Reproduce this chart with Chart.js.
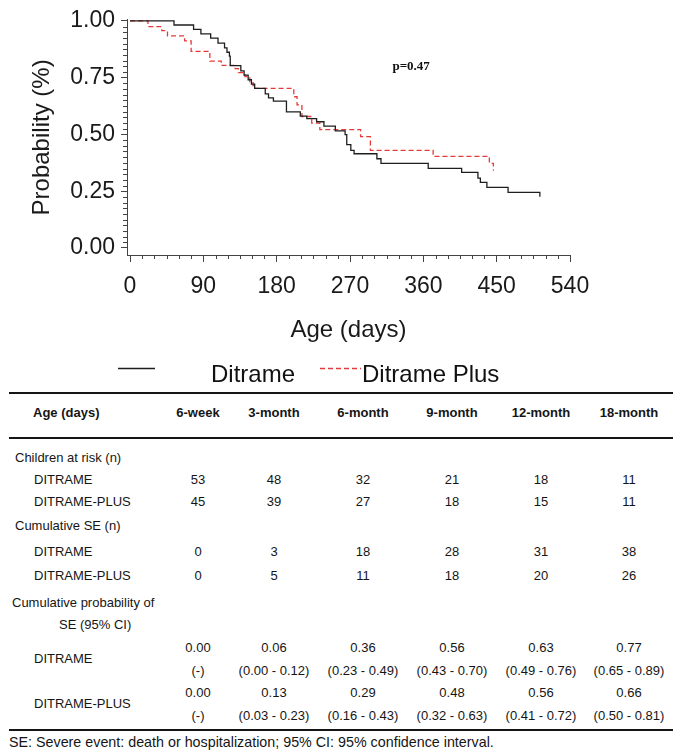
<!DOCTYPE html>
<html>
<head>
<meta charset="utf-8">
<script src="https://cdn.jsdelivr.net/npm/chart.js@4.4.1/dist/chart.umd.min.js"></script>
<style>
  body { margin: 0; background: #fff; width: 685px; height: 753px; position: relative; overflow: hidden;
         font-family: "Liberation Sans", Arial, sans-serif; color: #151515; }
  #wrap { position: absolute; left: 0; top: 0; width: 685px; height: 390px; }
  .t { position: absolute; font-size: 13px; line-height: 16px; white-space: nowrap; }
  .c { transform: translateX(-50%); }
  .b { font-weight: bold; }
  .rule { position: absolute; left: 9px; width: 664px; height: 2px; background: #151515; }
</style>
</head>
<body>
<div id="wrap"><canvas id="km"></canvas></div>
<div id="tbl"></div>
<script>
// Kaplan-Meier steps (days, probability)
const ditrameDays = [0, 54, 78, 87, 99, 108, 116, 119, 122, 123, 136, 140, 145, 149, 153, 166, 170, 176, 192, 209, 217, 229, 238, 252, 264, 266, 271, 275, 303, 308, 366, 407, 427, 430, 438, 464, 503];
const ditrameProb = [1.00, 0.982, 0.963, 0.943, 0.924, 0.902, 0.881, 0.862, 0.845, 0.803, 0.780, 0.761, 0.741, 0.722, 0.703, 0.679, 0.661, 0.647, 0.599, 0.581, 0.570, 0.556, 0.537, 0.516, 0.499, 0.455, 0.430, 0.415, 0.393, 0.373, 0.351, 0.333, 0.308, 0.289, 0.267, 0.245, 0.226];
const plusDays = [0, 22, 39, 46, 67, 75, 98, 112, 129, 133, 141, 147, 151, 153, 201, 205, 211, 223, 233, 283, 295, 372, 441, 446];
const plusProb = [1.00, 0.975, 0.957, 0.934, 0.912, 0.866, 0.823, 0.804, 0.790, 0.772, 0.755, 0.733, 0.715, 0.703, 0.666, 0.630, 0.579, 0.550, 0.521, 0.490, 0.430, 0.403, 0.373, 0.340];

const xTicks = [0, 90, 180, 270, 360, 450, 540];
const yTicks = [0, 0.25, 0.5, 0.75, 1.0];
const xMinorStep = 15;
const yMinorStep = 0.025;
const pValue = "p=0.47";

// table
const colHeads = ["6-week", "3-month", "6-month", "9-month", "12-month", "18-month"];
const atRiskDitrame = ["53", "48", "32", "21", "18", "11"];
const atRiskPlus = ["45", "39", "27", "18", "15", "11"];
const cumSeDitrame = ["0", "3", "18", "28", "31", "38"];
const cumSePlus = ["0", "5", "11", "18", "20", "26"];
const probDitrame = ["0.00", "0.06", "0.36", "0.56", "0.63", "0.77"];
const ciDitrame = ["(-)", "(0.00 - 0.12)", "(0.23 - 0.49)", "(0.43 - 0.70)", "(0.49 - 0.76)", "(0.65 - 0.89)"];
const probPlus = ["0.00", "0.13", "0.29", "0.48", "0.56", "0.66"];
const ciPlus = ["(-)", "(0.03 - 0.23)", "(0.16 - 0.43)", "(0.32 - 0.63)", "(0.41 - 0.72)", "(0.50 - 0.81)"];

function toPoints(days, prob) {
  return days.map((d, i) => ({ x: d, y: prob[i] }));
}

// minor ticks, legend and p value
const extras = {
  id: "extras",
  afterDraw(chart) {
    const { ctx, scales: { x, y } } = chart;
    ctx.save();
    ctx.strokeStyle = "#444";
    ctx.lineWidth = 1;
    ctx.beginPath();
    for (let v = 0; v <= 540; v += xMinorStep) {
      if (v % 90 === 0) continue;
      const px = Math.round(x.getPixelForValue(v)) + 0.5;
      ctx.moveTo(px, x.top);
      ctx.lineTo(px, x.top + 4);
    }
    for (let k = 0; k <= 40; k++) {
      if (k % 10 === 0) continue;
      const py = Math.round(y.getPixelForValue(k * yMinorStep)) + 0.5;
      ctx.moveTo(y.right, py);
      ctx.lineTo(y.right - 4, py);
    }
    ctx.stroke();

    // p value
    ctx.fillStyle = "#111";
    ctx.font = "bold 13px 'Liberation Serif', 'Times New Roman', serif";
    ctx.textAlign = "center";
    ctx.textBaseline = "middle";
    ctx.fillText(pValue, x.getPixelForValue(345), y.getPixelForValue(0.797));

    // legend
    const ds = chart.data.datasets;
    ctx.font = "24px 'Liberation Sans', Arial, sans-serif";
    ctx.textAlign = "left";
    ctx.lineWidth = 1.3;
    ctx.strokeStyle = ds[0].borderColor;
    ctx.beginPath(); ctx.moveTo(118, 368.5); ctx.lineTo(155, 368.5); ctx.stroke();
    ctx.fillText(ds[0].label, 211, 375);
    ctx.strokeStyle = ds[1].borderColor;
    ctx.setLineDash(ds[1].borderDash);
    ctx.beginPath(); ctx.moveTo(320, 368.5); ctx.lineTo(361, 368.5); ctx.stroke();
    ctx.setLineDash([]);
    ctx.fillText(ds[1].label, 362, 375);
    ctx.restore();
  }
};

new Chart(document.getElementById("km"), {
  type: "line",
  data: {
    datasets: [
      {
        label: "Ditrame",
        data: toPoints(ditrameDays, ditrameProb),
        borderColor: "#1e1e1e",
        borderWidth: 1.3,
        stepped: "before",
        pointRadius: 0,
        fill: false,
      },
      {
        label: "Ditrame Plus",
        data: toPoints(plusDays, plusProb),
        borderColor: "#e53a3a",
        borderWidth: 1.3,
        borderDash: [5, 3],
        stepped: "before",
        pointRadius: 0,
        fill: false,
      },
    ],
  },
  options: {
    responsive: true,
    maintainAspectRatio: false,
    animation: false,
    layout: { padding: { left: 0, top: 17, right: 115, bottom: 45 } },
    plugins: { legend: { display: false }, tooltip: { enabled: false } },
    scales: {
      x: {
        type: "linear",
        min: -3.7,
        max: 540,
        afterBuildTicks: (s) => { s.ticks = xTicks.map((v) => ({ value: v })); },
        afterFit: (s) => { s.height = 90; },
        ticks: { font: { size: 23 }, color: "#1a1a1a", padding: 11, maxRotation: 0, autoSkip: false },
        grid: { drawOnChartArea: false, tickLength: 7, color: "#444" },
        border: { color: "#444", width: 1 },
        title: { display: true, text: "Age (days)", font: { size: 24 }, color: "#1a1a1a", padding: 0 },
      },
      y: {
        min: -0.031,
        max: 1.005,
        afterBuildTicks: (s) => { s.ticks = yTicks.map((v) => ({ value: v })); },
        afterFit: (s) => { s.width = 127; },
        ticks: { font: { size: 23 }, color: "#1a1a1a", padding: 6, callback: (v) => Number(v).toFixed(2) },
        grid: { drawOnChartArea: false, tickLength: 6, color: "#444" },
        border: { color: "#444", width: 1 },
        title: { display: true, text: "Probability (%)", font: { size: 24 }, color: "#1a1a1a", padding: { top: 28, bottom: 0 } },
      },
    },
  },
  plugins: [extras],
});

// results table
const colX = [198, 274, 363, 452, 541, 629];
const tbl = document.getElementById("tbl");
function addText(txt, x, y, centered, bold, size) {
  const d = document.createElement("div");
  d.className = "t" + (centered ? " c" : "") + (bold ? " b" : "");
  d.textContent = txt;
  if (size) d.style.fontSize = size + "px";
  d.style.left = x + "px";
  d.style.top = (y - 8) + "px";
  tbl.appendChild(d);
}
function addRow(label, lx, y, vals, bold) {
  if (label) addText(label, lx, y, false, bold);
  if (vals) vals.forEach((v, i) => addText(v, colX[i], y, true, bold));
}
function addRule(y) {
  const r = document.createElement("div");
  r.className = "rule";
  r.style.top = y + "px";
  tbl.appendChild(r);
}
addRule(392);
addRow("Age (days)", 33, 413, colHeads, true);
addRule(437);
addRow("Children at risk (n)", 15, 458);
addRow("DITRAME", 34, 480, atRiskDitrame);
addRow("DITRAME-PLUS", 34, 502, atRiskPlus);
addRow("Cumulative SE (n)", 15, 526);
addRow("DITRAME", 34, 552, cumSeDitrame);
addRow("DITRAME-PLUS", 34, 576, cumSePlus);
addRow("Cumulative probability of", 12, 603);
addRow("SE (95% CI)", 59, 625);
addRow("DITRAME", 34, 659);
addRow(null, 0, 648, probDitrame);
addRow(null, 0, 671, ciDitrame);
addRow("DITRAME-PLUS", 34, 704);
addRow(null, 0, 693, probPlus);
addRow(null, 0, 716, ciPlus);
addRule(729);
addText("SE: Severe event: death or hospitalization; 95% CI: 95% confidence interval.", 9, 742, false, false, 14.3);
</script>
</body>
</html>
